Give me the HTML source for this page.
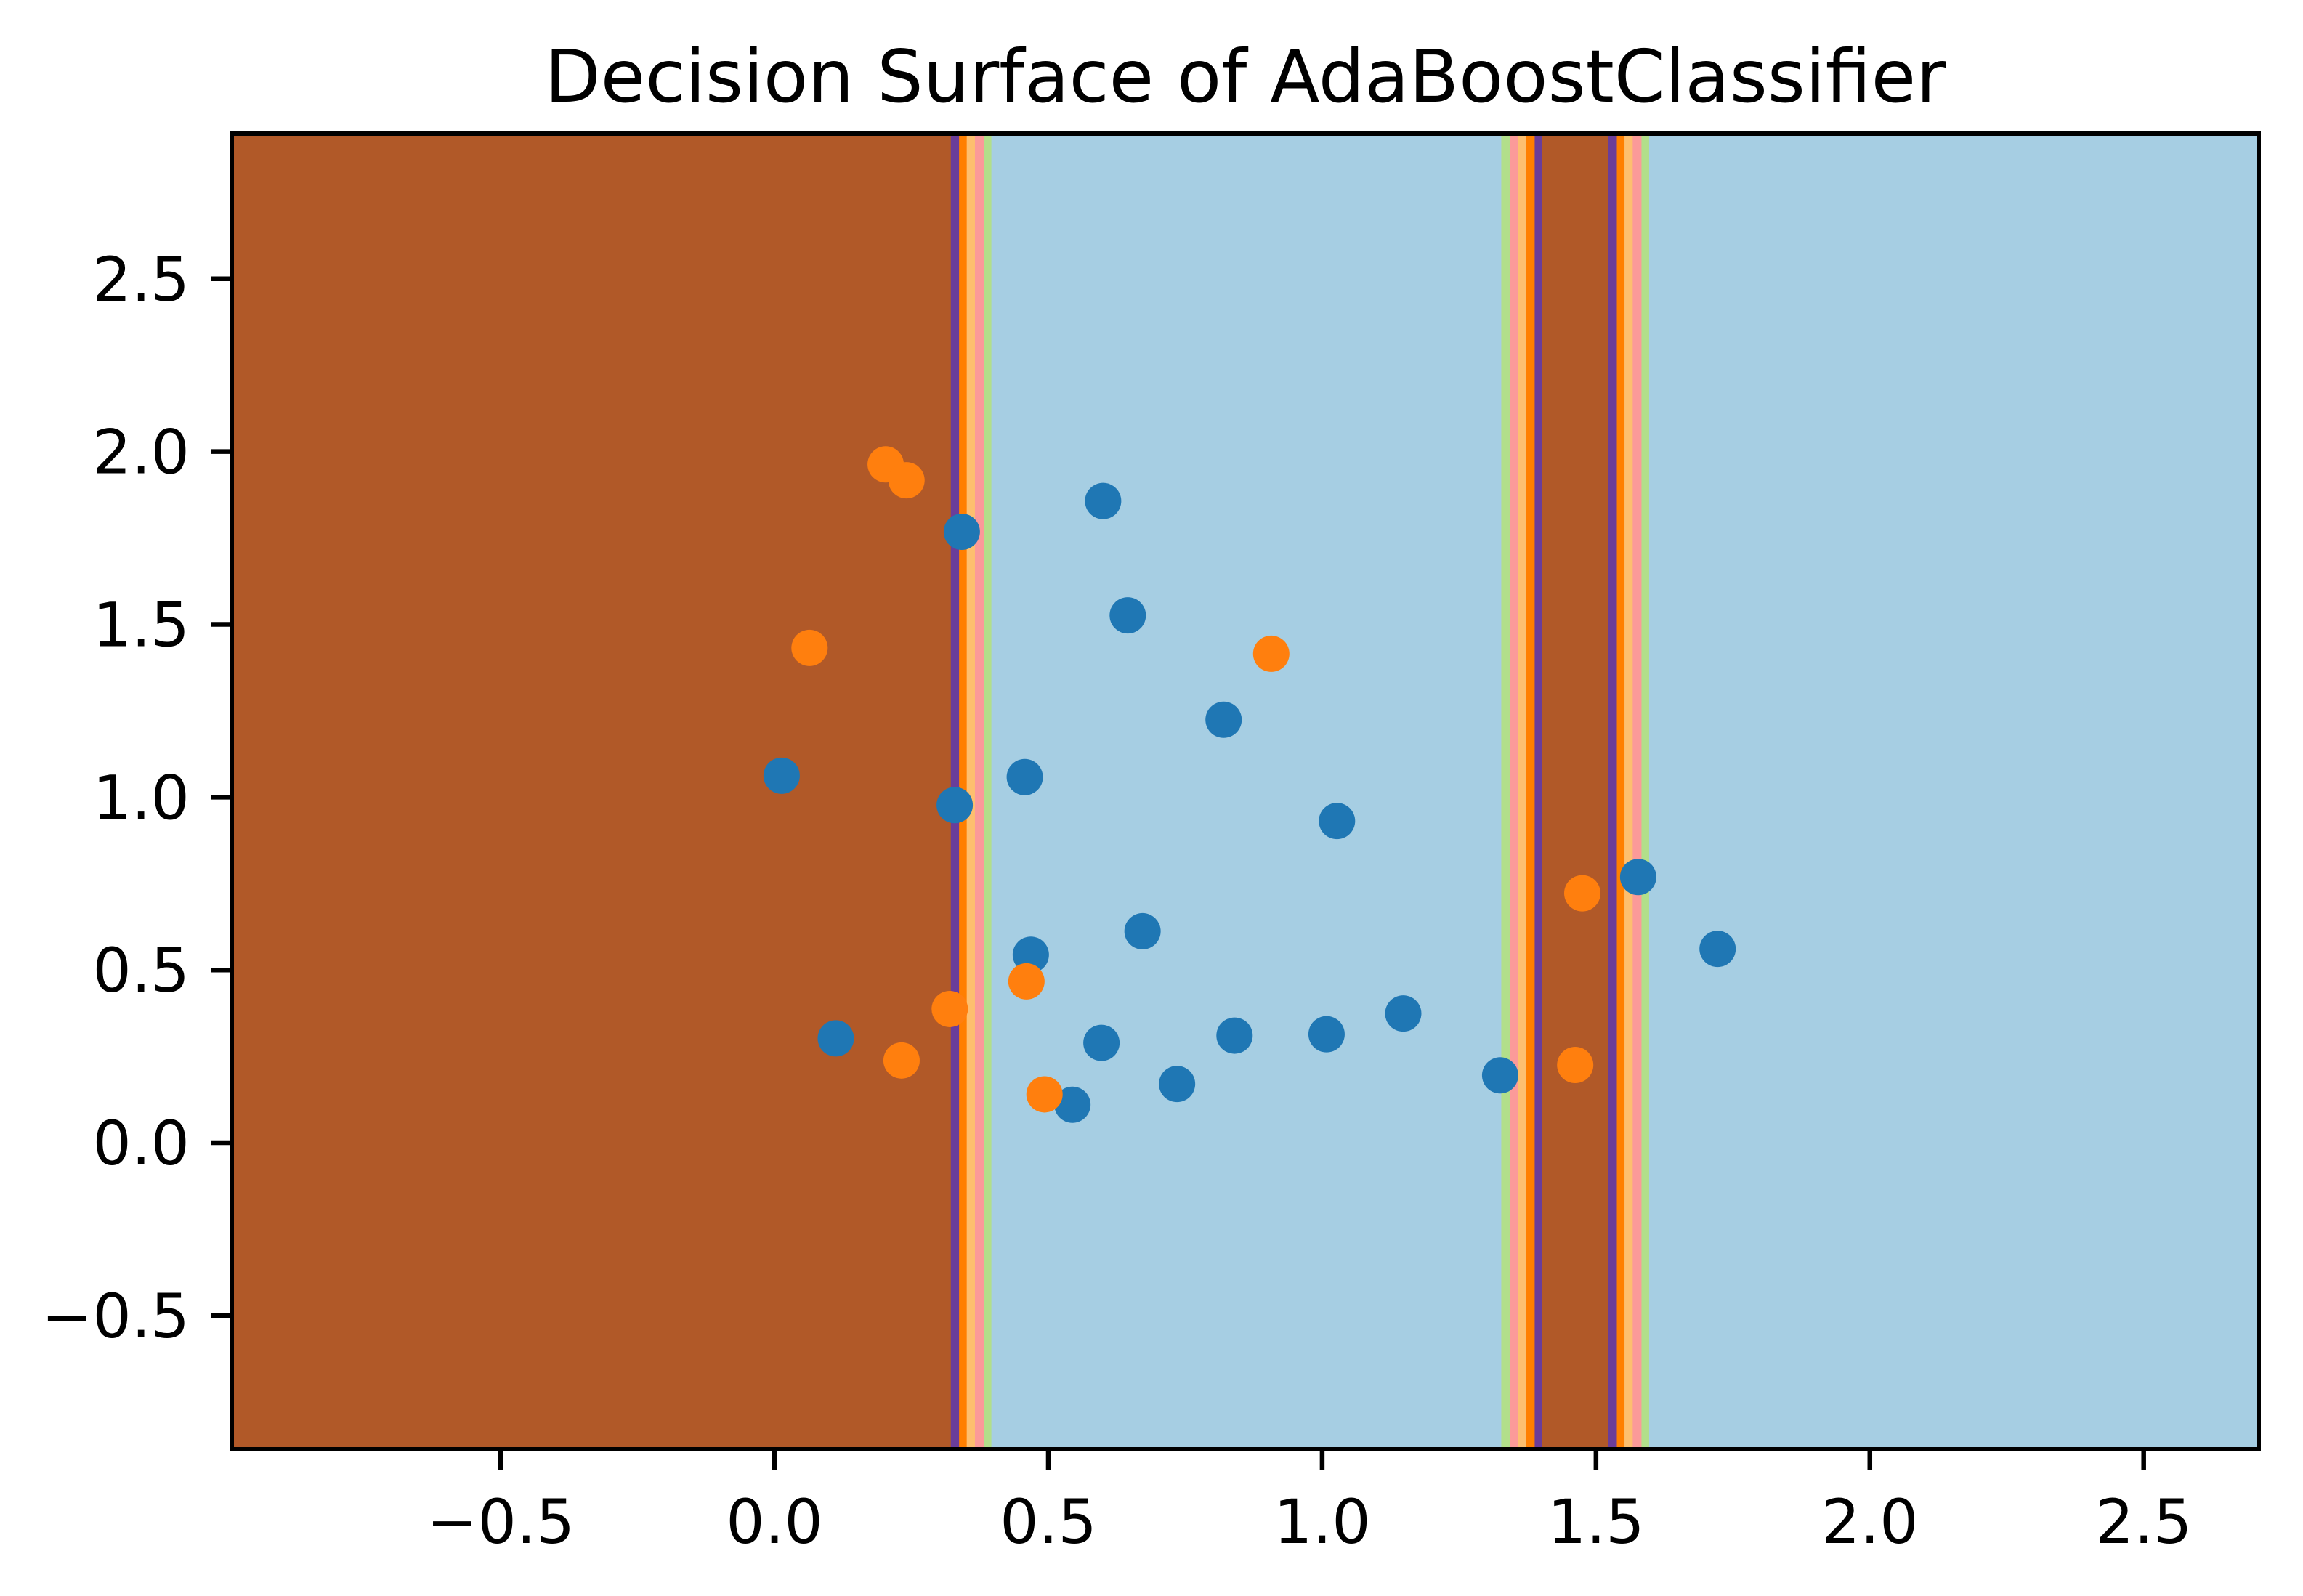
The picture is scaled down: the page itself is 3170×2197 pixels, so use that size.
<!DOCTYPE html>
<html><head><meta charset="utf-8"><style>html,body{margin:0;padding:0;background:#fff}svg{display:block}</style></head>
<body>
<svg id="chart" width="3170" height="2197" xmlns="http://www.w3.org/2000/svg" font-family="DejaVu Sans, Liberation Sans, sans-serif">
<rect width="3170" height="2197" fill="#fff"/>
<text x="1714" y="140" font-size="100" text-anchor="middle">Decision Surface of AdaBoostClassifier</text>
<g id="plot"></g>
</svg>
<script>
const bandEdges = [-0.991, 0.322, 0.337, 0.351, 0.366, 0.382, 0.396, 1.327, 1.343, 1.357, 1.372, 1.388, 1.402, 1.522, 1.538, 1.552, 1.567, 1.583, 1.597, 2.71];
const bandColors = ['#b15928','#6a3d9a','#ff7f00','#fdbf6f','#fb9a99','#b2df8a','#a6cee3','#b2df8a','#fb9a99','#fdbf6f','#ff7f00','#6a3d9a','#b15928','#6a3d9a','#ff7f00','#fdbf6f','#fb9a99','#b2df8a','#a6cee3'];
const blueX = [0.013,0.329,0.342,0.600,0.645,0.820,0.457,1.027,0.468,0.672,1.577,1.722,0.112,0.597,0.544,0.735,0.840,1.008,1.148,1.325];
const blueY = [1.062,0.977,1.768,1.857,1.526,1.224,1.058,0.931,0.544,0.612,0.769,0.561,0.302,0.289,0.110,0.170,0.310,0.314,0.374,0.195];
const orangeX = [0.203,0.241,0.064,0.907,0.320,0.460,0.232,0.493,1.475,1.462];
const orangeY = [1.963,1.917,1.432,1.415,0.387,0.467,0.238,0.140,0.722,0.225];
const xTicks = [-0.5,0.0,0.5,1.0,1.5,2.0,2.5];
const yTicks = [-0.5,0.0,0.5,1.0,1.5,2.0,2.5];
const xTickLabels = ['\u22120.5','0.0','0.5','1.0','1.5','2.0','2.5'];
const yTickLabels = ['\u22120.5','0.0','0.5','1.0','1.5','2.0','2.5'];

const L=319,R=3109,T=184,B=1995;
const xmin=-0.991,xmax=2.71,ymin=-0.887,ymax=2.92;
const sx=v=>L+(v-xmin)/(xmax-xmin)*(R-L);
const sy=v=>B-(v-ymin)/(ymax-ymin)*(B-T);
const NS='http://www.w3.org/2000/svg';
const g=document.getElementById('plot');
function mk(tag,attrs){const e=document.createElementNS(NS,tag);for(const k in attrs)e.setAttribute(k,attrs[k]);g.appendChild(e);return e;}
for(let i=0;i<bandColors.length;i++){
  const x0=sx(bandEdges[i]),x1=sx(bandEdges[i+1]);
  const r=mk('rect',{x:x0,y:T,width:x1-x0+0.5,height:B-T,fill:bandColors[i]});
  
  
}
for(let i=0;i<blueX.length;i++){
  const c=mk('circle',{cx:sx(blueX[i]),cy:sy(blueY[i]),r:25,fill:'#1f77b4'});
  
  
}
for(let i=0;i<orangeX.length;i++){
  const c=mk('circle',{cx:sx(orangeX[i]),cy:sy(orangeY[i]),r:25,fill:'#ff7f0e'});
  
  
}
const frame=mk('rect',{x:L,y:T,width:R-L,height:B-T,fill:'none',stroke:'#000','stroke-width':6});


xTicks.forEach((v,i)=>{
  const x=sx(v);
  const t=mk('line',{x1:x,x2:x,y1:B,y2:B+29,stroke:'#000','stroke-width':6.5});
  
  
  const tx=mk('text',{x:x,y:2124,'font-size':84,'text-anchor':'middle'});
  tx.textContent=xTickLabels[i];
  
  
});
yTicks.forEach((v,i)=>{
  const y=sy(v);
  const t=mk('line',{x1:L,x2:L-29,y1:y,y2:y,stroke:'#000','stroke-width':6.5});
  
  
  const tx=mk('text',{x:261,y:y+30,'font-size':84,'text-anchor':'end'});
  tx.textContent=yTickLabels[i];
  
  
});
</script>
</body></html>
